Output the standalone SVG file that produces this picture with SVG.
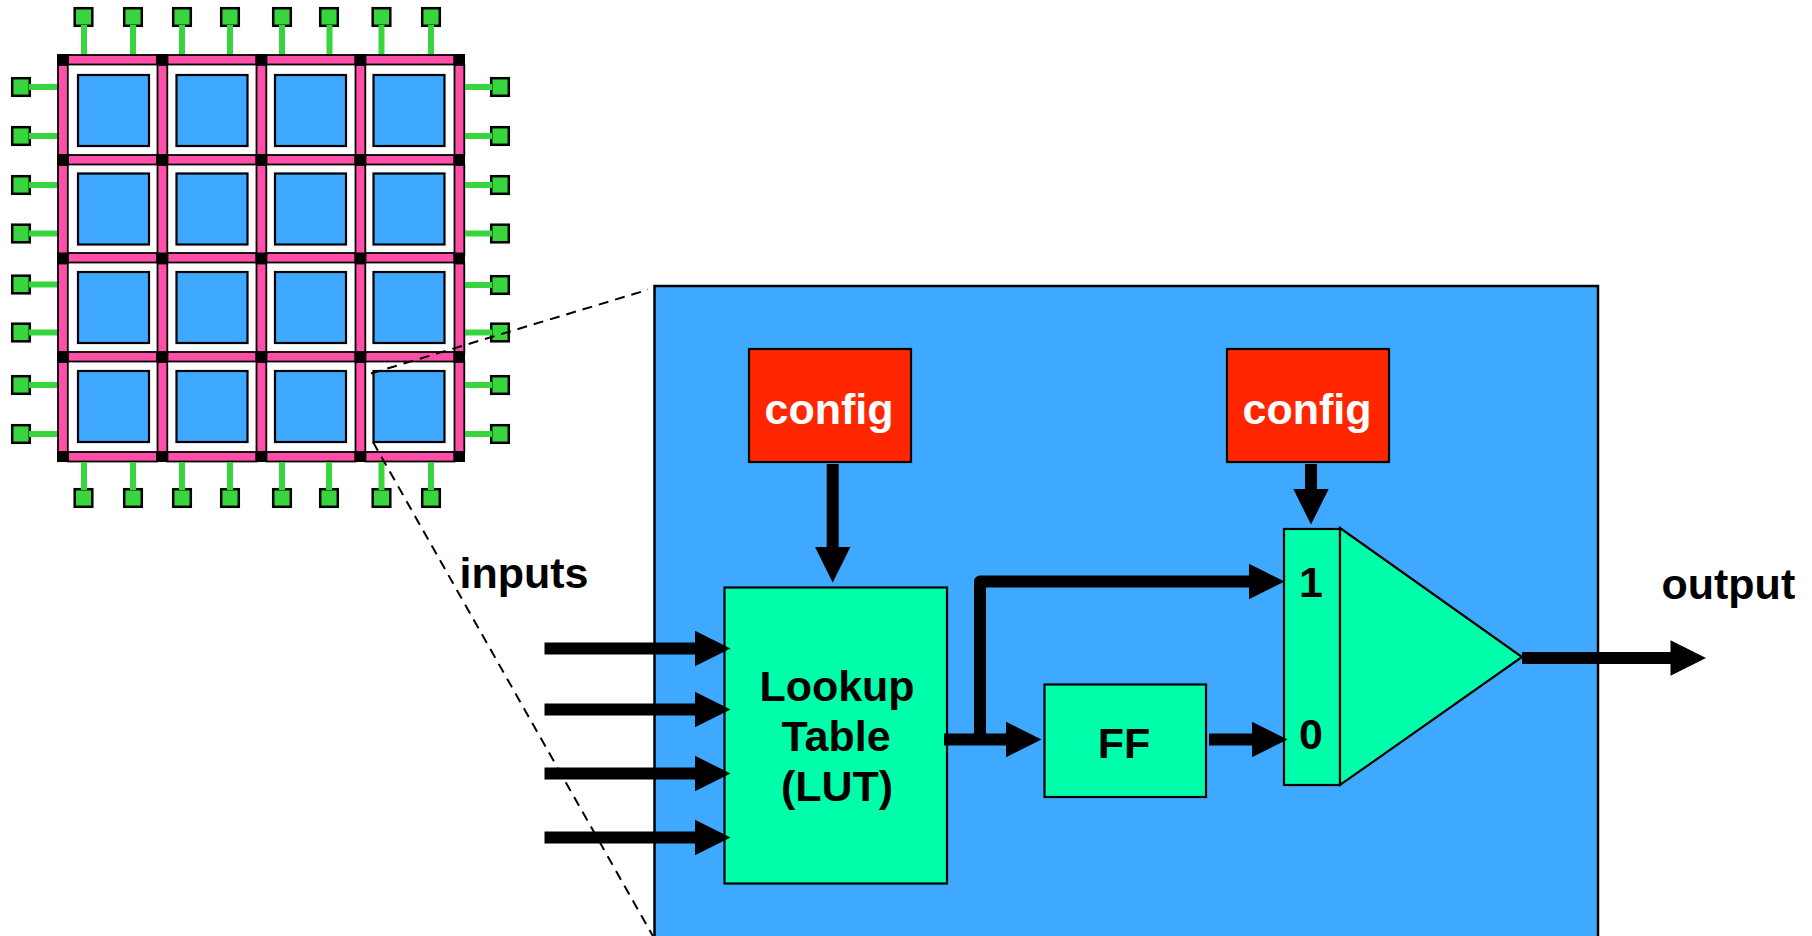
<svg xmlns="http://www.w3.org/2000/svg" xmlns:xlink="http://www.w3.org/1999/xlink" width="1812" height="936" viewBox="0 0 1812 936">
<style>
text{font-family:"Liberation Sans",Arial,sans-serif;font-weight:bold;font-size:43px;fill:#000}
.c{text-anchor:middle}
.w{fill:#fff}
.cell{fill:#3FA9FF;stroke:#000;stroke-width:2.2}
.bar{fill:#FF4FA8;stroke:#000;stroke-width:1.8}
.j{fill:#000}
.pad{fill:#39D53F;stroke:#000;stroke-width:2.5}
.pw{stroke:#39D53F;stroke-width:6;fill:none}
.block{fill:#00FFAA;stroke:#000;stroke-width:2.2}
.cfg{fill:#FF2600;stroke:#000;stroke-width:2.2}
.wire{stroke:#000;stroke-width:12;fill:none;stroke-linejoin:round}
.head{fill:#000}
.dash{stroke:#000;stroke-width:2;fill:none;stroke-dasharray:10 7}
</style>
<defs>
<rect id="hb" class="bar" x="0" y="0" width="89" height="9.5"/>
<rect id="vb" class="bar" x="0" y="0" width="9.8" height="90"/>
<rect id="jn" class="j" x="0" y="0" width="11.5" height="11"/>
<rect id="cl" class="cell" x="0" y="0" width="71" height="71"/>
<rect id="pd" class="pad" x="-8.8" y="-8.8" width="17.6" height="17.6"/>
<polygon id="ar" class="head" points="0,-17.700 35.500,0 0,17.700"/>
<polygon id="ad" class="head" points="-17.700,0 17.700,0 0,35.500"/>
</defs>
<g id="clb-detail">
<rect x="654.500" y="286" width="943.500" height="660" fill="#3FA9FF" stroke="#000" stroke-width="2.500"/>
</g>
<g id="fpga-grid">
<use href="#hb" x="68" y="55"/><use href="#hb" x="167.500" y="55"/><use href="#hb" x="266.500" y="55"/><use href="#hb" x="365.500" y="55"/>
<use href="#hb" x="68" y="155"/><use href="#hb" x="167.500" y="155"/><use href="#hb" x="266.500" y="155"/><use href="#hb" x="365.500" y="155"/>
<use href="#hb" x="68" y="253"/><use href="#hb" x="167.500" y="253"/><use href="#hb" x="266.500" y="253"/><use href="#hb" x="365.500" y="253"/>
<use href="#hb" x="68" y="352"/><use href="#hb" x="167.500" y="352"/><use href="#hb" x="266.500" y="352"/><use href="#hb" x="365.500" y="352"/>
<use href="#hb" x="68" y="452"/><use href="#hb" x="167.500" y="452"/><use href="#hb" x="266.500" y="452"/><use href="#hb" x="365.500" y="452"/>
<use href="#vb" x="58" y="65"/><use href="#vb" x="157.500" y="65"/><use href="#vb" x="256.500" y="65"/><use href="#vb" x="355.500" y="65"/><use href="#vb" x="454.500" y="65"/>
<use href="#vb" x="58" y="165"/><use href="#vb" x="157.500" y="165"/><use href="#vb" x="256.500" y="165"/><use href="#vb" x="355.500" y="165"/><use href="#vb" x="454.500" y="165"/>
<use href="#vb" x="58" y="263.500"/><use href="#vb" x="157.500" y="263.500"/><use href="#vb" x="256.500" y="263.500"/><use href="#vb" x="355.500" y="263.500"/><use href="#vb" x="454.500" y="263.500"/>
<use href="#vb" x="58" y="362"/><use href="#vb" x="157.500" y="362"/><use href="#vb" x="256.500" y="362"/><use href="#vb" x="355.500" y="362"/><use href="#vb" x="454.500" y="362"/>
<use href="#jn" x="57" y="54"/><use href="#jn" x="156.500" y="54"/><use href="#jn" x="255.500" y="54"/><use href="#jn" x="354.500" y="54"/><use href="#jn" x="453.500" y="54"/>
<use href="#jn" x="57" y="154"/><use href="#jn" x="156.500" y="154"/><use href="#jn" x="255.500" y="154"/><use href="#jn" x="354.500" y="154"/><use href="#jn" x="453.500" y="154"/>
<use href="#jn" x="57" y="252.500"/><use href="#jn" x="156.500" y="252.500"/><use href="#jn" x="255.500" y="252.500"/><use href="#jn" x="354.500" y="252.500"/><use href="#jn" x="453.500" y="252.500"/>
<use href="#jn" x="57" y="351"/><use href="#jn" x="156.500" y="351"/><use href="#jn" x="255.500" y="351"/><use href="#jn" x="354.500" y="351"/><use href="#jn" x="453.500" y="351"/>
<use href="#jn" x="57" y="451"/><use href="#jn" x="156.500" y="451"/><use href="#jn" x="255.500" y="451"/><use href="#jn" x="354.500" y="451"/><use href="#jn" x="453.500" y="451"/>
</g>
<g id="fpga-cells">
<use href="#cl" x="78" y="75"/><use href="#cl" x="176.500" y="75"/><use href="#cl" x="275" y="75"/><use href="#cl" x="373.500" y="75"/>
<use href="#cl" x="78" y="173.500"/><use href="#cl" x="176.500" y="173.500"/><use href="#cl" x="275" y="173.500"/><use href="#cl" x="373.500" y="173.500"/>
<use href="#cl" x="78" y="272"/><use href="#cl" x="176.500" y="272"/><use href="#cl" x="275" y="272"/><use href="#cl" x="373.500" y="272"/>
<use href="#cl" x="78" y="371"/><use href="#cl" x="176.500" y="371"/><use href="#cl" x="275" y="371"/><use href="#cl" x="373.500" y="371"/>
</g>
<g id="fpga-pads">
<use href="#pd" x="83.500" y="17"/><use href="#pd" x="133" y="17"/><use href="#pd" x="182" y="17"/><use href="#pd" x="230" y="17"/><use href="#pd" x="282" y="17"/><use href="#pd" x="329" y="17"/><use href="#pd" x="381.500" y="17"/><use href="#pd" x="431" y="17"/>
<use href="#pd" x="83.500" y="498"/><use href="#pd" x="133" y="498"/><use href="#pd" x="182" y="498"/><use href="#pd" x="230" y="498"/><use href="#pd" x="282" y="498"/><use href="#pd" x="329" y="498"/><use href="#pd" x="381.500" y="498"/><use href="#pd" x="431" y="498"/>
<use href="#pd" x="21" y="87"/><use href="#pd" x="21" y="136"/><use href="#pd" x="21" y="185"/><use href="#pd" x="21" y="233.500"/><use href="#pd" x="21" y="284.500"/><use href="#pd" x="21" y="332.500"/><use href="#pd" x="21" y="385"/><use href="#pd" x="21" y="434"/>
<use href="#pd" x="500" y="87"/><use href="#pd" x="500" y="136"/><use href="#pd" x="500" y="185"/><use href="#pd" x="500" y="233.500"/><use href="#pd" x="500" y="285"/><use href="#pd" x="500" y="332.500"/><use href="#pd" x="500" y="385"/><use href="#pd" x="500" y="434"/>
</g>
<g id="fpga-wires">
<path class="pw" d="M84 25V54M133 25V54M182 25V54M230 25V54M282 25V54M329.500 25V54M381.500 25V54M431 25V54"/>
<path class="pw" d="M84 462V490M133 462V490M182 462V490M230 462V490M282 462V490M329 462V490M381.500 462V490M431 462V490"/>
<path class="pw" d="M29 87H57M29 136H57M29 185H57M29 233.500H57M29 284.500H57M29 332.500H57M29 385H57M29 434H57"/>
<path class="pw" d="M465 87H492M465 136H492M465 185H492M465 233.500H492M465 285H492M465 332.500H492M465 385H492M465 434H492"/>
</g>
<g id="zoom-lines">
<path class="dash" d="M371 373.500L648 289.700"/>
<path class="dash" d="M373 442L654 938"/>
</g>
<g id="lut">
<rect class="block" x="724.500" y="587.500" width="222.500" height="296"/>
<text class="c" x="837" y="701">Lookup</text>
<text class="c" x="836" y="751">Table</text>
<text class="c" x="837" y="801">(LUT)</text>
</g>
<g id="ff">
<rect class="block" x="1044.500" y="684.500" width="161.500" height="112.500"/>
<text class="c" x="1124" y="757.500">FF</text>
</g>
<g id="config-1">
<rect class="cfg" x="749" y="349" width="162" height="113"/>
<text class="c w" x="829" y="423.500">config</text>
</g>
<g id="config-2">
<rect class="cfg" x="1227" y="349" width="162" height="113"/>
<text class="c w" x="1307" y="423.500">config</text>
</g>
<g id="mux">
<rect class="block" x="1284" y="529" width="56" height="256"/>
<polygon class="block" points="1340,528 1522,657 1340,785"/>
<text class="c" x="1311" y="596.500">1</text>
<text class="c" x="1311" y="748.500">0</text>
</g>
<g id="labels">
<text x="459.500" y="587.500">inputs</text>
<text x="1661.500" y="598.500">output</text>
</g>
<g id="connectors">
<path class="wire" d="M544.500 648.500H696M544.500 709.500H696M544.500 773.500H696M544.500 837.500H696"/>
<use href="#ar" x="695" y="648.500"/><use href="#ar" x="695" y="709.500"/><use href="#ar" x="695" y="773.500"/><use href="#ar" x="695" y="837.500"/>
<path class="wire" d="M944 739.500H1007"/>
<use href="#ar" x="1006" y="739.500"/>
<path class="wire" d="M980 739.500V581.500H1250"/>
<use href="#ar" x="1249" y="581.500"/>
<path class="wire" d="M1209 739.500H1253"/>
<use href="#ar" x="1252" y="739.500"/>
<path class="wire" d="M1522 658H1671"/>
<use href="#ar" x="1670.500" y="658"/>
<path class="wire" d="M832.700 464V548"/>
<use href="#ad" x="832.700" y="547"/>
<path class="wire" d="M1311 464V490"/>
<use href="#ad" x="1311" y="489"/>
</g>
</svg>
